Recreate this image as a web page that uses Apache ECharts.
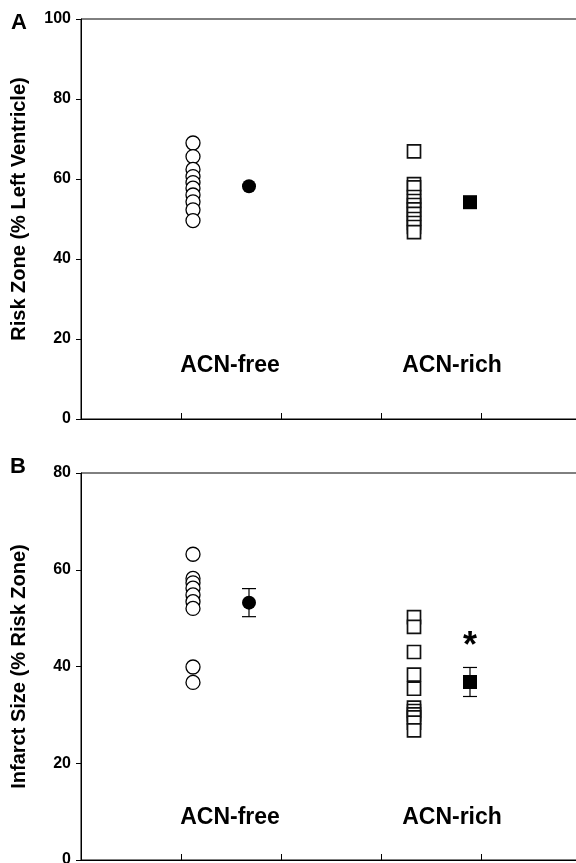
<!DOCTYPE html>
<html>
<head>
<meta charset="utf-8">
<script src="https://cdn.jsdelivr.net/npm/echarts@6/dist/echarts.min.js"></script>
<style>
  html, body { margin: 0; padding: 0; background: #fff; }
  #chart { width: 576px; height: 863px; }
</style>
</head>
<body>
<div id="chart"></div>
<script>
// x positions of the groups (axis runs 0..5, ticks at each integer)
var freeX = 1.12, freeMeanX = 1.68;
var richX = 3.33, richMeanX = 3.89;

// panel A: risk zone (% left ventricle)
var riskFree = [69, 65.6, 62.4, 60.6, 59.1, 57.7, 56, 54.3, 52.3, 49.6];
var riskFreeMean = 58.2;
var riskRich = [66.9, 58.7, 57.9, 55.5, 54.5, 53.5, 52.4, 51.3, 50, 49, 48, 46.7];
var riskRichMean = 54.2;

// panel B: infarct size (% risk zone)
var infFree = [63.2, 58.2, 57.3, 56.2, 54.8, 53.4, 52, 39.9, 36.7];
var infFreeMean = 53.2, infFreeErr = 2.9;
var infRich = [50.2, 48.2, 43, 38.3, 35.4, 31.5, 30.8, 30.1, 29.5, 28.4, 26.8];
var infRichMean = 36.8, infRichErr = 3;

var groupNames = ['ACN-free', 'ACN-rich'];
var groupLabelX = [1.49, 3.71];

var FONT = "'Liberation Sans', Arial, sans-serif";

function pts(x, arr) {
    var out = [];
    for (var i = 0; i < arr.length; i++) {
        out.push([x, arr[i]]);
    }
    return out;
}

function xAx(idx) {
    return {
        gridIndex: idx, type: 'value', min: 0, max: 5, interval: 1,
        axisLine: { lineStyle: { color: '#000', width: 1 } },
        axisTick: { inside: true, length: 6, lineStyle: { color: '#000' } },
        axisLabel: { show: false },
        splitLine: { show: false }
    };
}

function yAx(idx, max, name, pad) {
    return {
        gridIndex: idx, type: 'value', min: 0, max: max, interval: 20,
        name: name, nameLocation: 'middle', nameGap: 52,
        nameTextStyle: { fontFamily: FONT, fontWeight: 'bold', fontSize: 20, color: '#000', padding: pad },
        axisLine: { show: true, lineStyle: { color: '#000', width: 1 } },
        axisTick: { show: true, length: 5, lineStyle: { color: '#000' } },
        axisLabel: { fontFamily: FONT, fontWeight: 'bold', fontSize: 16, color: '#000', margin: 10 },
        splitLine: { show: false }
    };
}

var circleStyle = { color: '#fff', borderColor: '#000', borderWidth: 1.3, opacity: 1 };
var rectStyle = { color: '#fff', borderColor: '#111', borderWidth: 1.7, opacity: 1 };
var solidStyle = { color: '#000', opacity: 1 };

function errBars(gridIdx, x, mean, err) {
    return {
        type: 'custom',
        xAxisIndex: gridIdx, yAxisIndex: gridIdx,
        data: [[x, mean, err]],
        z: 1,
        renderItem: function (params, api) {
            var top = api.coord([api.value(0), api.value(1) + api.value(2)]);
            var bot = api.coord([api.value(0), api.value(1) - api.value(2)]);
            var w = 7;
            var st = { stroke: '#000', lineWidth: 1.2 };
            return {
                type: 'group',
                children: [
                    { type: 'line', shape: { x1: top[0], y1: top[1], x2: bot[0], y2: bot[1] }, style: st },
                    { type: 'line', shape: { x1: top[0] - w, y1: top[1], x2: top[0] + w, y2: top[1] }, style: st },
                    { type: 'line', shape: { x1: bot[0] - w, y1: bot[1], x2: bot[0] + w, y2: bot[1] }, style: st }
                ]
            };
        }
    };
}

function groupText(gridIdx, y) {
    return {
        type: 'scatter', xAxisIndex: gridIdx, yAxisIndex: gridIdx,
        symbolSize: 0, silent: true,
        itemStyle: { opacity: 1 },
        data: [[groupLabelX[0], y, groupNames[0]], [groupLabelX[1], y, groupNames[1]]],
        label: {
            show: true, position: 'inside',
            formatter: function (p) { return p.value[2]; },
            fontFamily: FONT, fontWeight: 'bold', fontSize: 23, color: '#000'
        }
    };
}

var myChart = echarts.init(document.getElementById('chart'));
var option = {
    animation: false,
    backgroundColor: '#fff',
    grid: [
        { left: 81, top: 19, width: 500, height: 400, show: true, borderColor: '#000', borderWidth: 1,
          outerBoundsMode: 'none', containLabel: false },
        { left: 81, top: 473, width: 500, height: 387, show: true, borderColor: '#000', borderWidth: 1,
          outerBoundsMode: 'none', containLabel: false }
    ],
    xAxis: [xAx(0), xAx(1)],
    yAxis: [
        yAx(0, 100, 'Risk Zone (% Left Ventricle)', [0, 0, 0, 20]),
        yAx(1, 80, 'Infarct Size (% Risk Zone)', [0, 0, 0, 0])
    ],
    graphic: [
        { type: 'text', left: 11, top: 12, style: { text: 'A', font: 'bold 22px ' + FONT, fill: '#000' } },
        { type: 'text', left: 10, top: 456, style: { text: 'B', font: 'bold 22px ' + FONT, fill: '#000' } }
    ],
    series: [
        { type: 'scatter', xAxisIndex: 0, yAxisIndex: 0, symbol: 'circle', symbolSize: 14,
          itemStyle: circleStyle, data: pts(freeX, riskFree) },
        { type: 'scatter', xAxisIndex: 0, yAxisIndex: 0, symbol: 'circle', symbolSize: 14,
          itemStyle: solidStyle, data: [[freeMeanX, riskFreeMean]] },
        { type: 'scatter', xAxisIndex: 0, yAxisIndex: 0, symbol: 'rect', symbolSize: 13,
          itemStyle: rectStyle, data: pts(richX, riskRich) },
        { type: 'scatter', xAxisIndex: 0, yAxisIndex: 0, symbol: 'rect', symbolSize: 14,
          itemStyle: solidStyle, data: [[richMeanX, riskRichMean]] },
        groupText(0, 13.25),

        errBars(1, freeMeanX, infFreeMean, infFreeErr),
        errBars(1, richMeanX, infRichMean, infRichErr),
        { type: 'scatter', xAxisIndex: 1, yAxisIndex: 1, symbol: 'circle', symbolSize: 14,
          itemStyle: circleStyle, data: pts(freeX, infFree) },
        { type: 'scatter', xAxisIndex: 1, yAxisIndex: 1, symbol: 'circle', symbolSize: 14, z: 3,
          itemStyle: solidStyle, data: [[freeMeanX, infFreeMean]] },
        { type: 'scatter', xAxisIndex: 1, yAxisIndex: 1, symbol: 'rect', symbolSize: 13,
          itemStyle: rectStyle, data: pts(richX, infRich) },
        { type: 'scatter', xAxisIndex: 1, yAxisIndex: 1, symbol: 'rect', symbolSize: 14, z: 3,
          itemStyle: solidStyle, data: [[richMeanX, infRichMean]] },
        { type: 'scatter', xAxisIndex: 1, yAxisIndex: 1, symbolSize: 0, silent: true,
          itemStyle: { opacity: 1 },
          data: [[richMeanX, 45.6]],
          label: { show: true, position: 'inside', formatter: '*', offset: [0, 8],
                   fontFamily: FONT, fontWeight: 'bold', fontSize: 36, color: '#000' } },
        groupText(1, 8.8)
    ]
};
if (option && typeof option === "object") {
    myChart.setOption(option, true);
}
</script>
</body>
</html>
